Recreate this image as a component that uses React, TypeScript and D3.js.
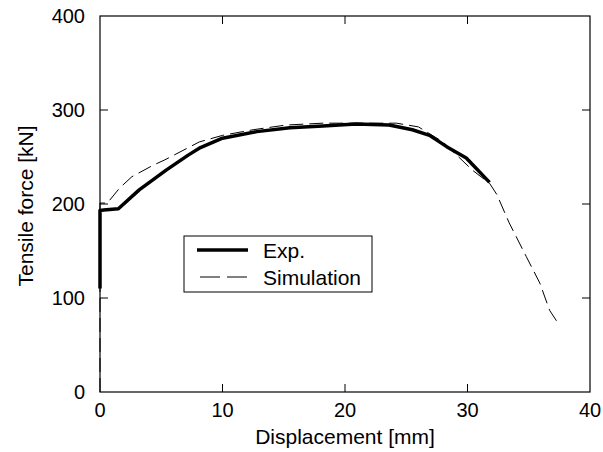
import React from 'react';
import * as d3 from 'd3';

// displacement [mm] / tensile force [kN]
const expX = [0, 0, 0.3, 1.5, 3.2, 5.4, 7.2, 8.2, 10, 12.8, 15.5, 18.2, 20.9, 23.6, 25.5, 26.9, 28.3, 29.9, 31.8];
const expY = [110, 193, 193.5, 195, 215, 236, 252, 260, 270, 277, 281, 283, 285, 284, 279, 273, 261, 249, 223];

const simX = [0, 0, 0.6, 1.6, 2.6, 4.3, 5.3, 8.1, 10, 12.5, 15.2, 18.2, 19.5, 22.2, 24.2, 26, 28, 30.4, 31.8, 32.4, 33.4, 34.8, 35.9, 36.7, 37.3];
const simY = [0, 201, 201, 217, 229, 241, 247, 266, 273, 279, 284, 286, 286, 286, 286, 282, 266, 236, 222, 210, 180, 144, 116, 87, 75];

const xTicks = [0, 10, 20, 30, 40];
const yTicks = [0, 100, 200, 300, 400];
const legendLabels = ['Exp.', 'Simulation'];

const W = 603, H = 452;
const margin = { top: 16, right: 13, bottom: 60, left: 100 };
const font = '"Liberation Sans", Arial, sans-serif';

export default function App() {
  const x = d3.scaleLinear().domain([0, 40]).range([margin.left, W - margin.right]);
  const y = d3.scaleLinear().domain([0, 400]).range([H - margin.bottom, margin.top]);

  const line = d3.line<[number, number]>()
    .x((d) => x(d[0]))
    .y((d) => y(d[1]));

  const expPts = expX.map((v, i) => [v, expY[i]] as [number, number]);
  const simPts = simX.map((v, i) => [v, simY[i]] as [number, number]);

  const x0 = x(0), x1 = x(40), y0 = y(0), y1 = y(400);
  const tk = 8;

  // legend box
  const lx = 184, ly = 236, lw = 188, lh = 56;

  return (
    <div style={{ position: 'absolute', left: 0, top: 0 }}>
      <svg width={W} height={H} style={{ display: 'block', background: '#fff' }} fontFamily={font}>
        <rect x={x0} y={y1} width={x1 - x0} height={y0 - y1} fill="none" stroke="#000" strokeWidth={1.2} />

        {/* ticks */}
        {xTicks.slice(1, -1).map((t) => (
          <g key={'xt' + t} stroke="#000" strokeWidth={1}>
            <line x1={x(t)} x2={x(t)} y1={y0} y2={y0 - tk} />
            <line x1={x(t)} x2={x(t)} y1={y1} y2={y1 + tk} />
          </g>
        ))}
        {yTicks.slice(1, -1).map((t) => (
          <g key={'yt' + t} stroke="#000" strokeWidth={1}>
            <line x1={x0} x2={x0 + tk} y1={y(t)} y2={y(t)} />
            <line x1={x1} x2={x1 - tk} y1={y(t)} y2={y(t)} />
          </g>
        ))}

        {/* tick labels */}
        {xTicks.map((t) => (
          <text key={'xl' + t} x={x(t)} y={y0 + 25} textAnchor="middle" fontSize={20}>{t}</text>
        ))}
        {yTicks.map((t) => (
          <text key={'yl' + t} x={x0 - 15} y={y(t)} dy="0.36em" textAnchor="end" fontSize={20}>{t}</text>
        ))}

        {/* axis titles */}
        <text x={(x0 + x1) / 2} y={y0 + 52} textAnchor="middle" fontSize={21}>Displacement [mm]</text>
        <text transform={`translate(33,${(y0 + y1) / 2 + 2}) rotate(-90)`} textAnchor="middle" fontSize={21}>Tensile force [kN]</text>

        {/* curves */}
        <path d={line(simPts) ?? ''} fill="none" stroke="#000" strokeWidth={1} strokeDasharray="14,6" strokeLinejoin="round" />
        <path d={line(expPts) ?? ''} fill="none" stroke="#000" strokeWidth={3.5} strokeLinejoin="round" />

        {/* legend */}
        <rect x={lx} y={ly} width={lw} height={lh} fill="#fff" stroke="#000" strokeWidth={1} />
        <line x1={lx + 13} x2={lx + 64} y1={ly + 14} y2={ly + 14} stroke="#000" strokeWidth={3.5} />
        <line x1={lx + 16} x2={lx + 64} y1={ly + 41} y2={ly + 41} stroke="#000" strokeWidth={1} strokeDasharray="20,7" />
        <text x={lx + 79} y={ly + 14} dy="0.36em" fontSize={21}>{legendLabels[0]}</text>
        <text x={lx + 79} y={ly + 41} dy="0.36em" fontSize={21}>{legendLabels[1]}</text>
      </svg>
    </div>
  );
}
